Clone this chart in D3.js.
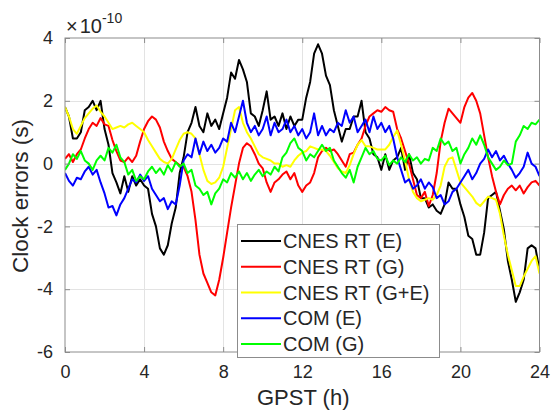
<!DOCTYPE html>
<html>
<head>
<meta charset="utf-8">
<script src="https://cdn.jsdelivr.net/npm/d3@7"></script>
<style>
  html, body { margin: 0; padding: 0; background: #fff; }
  text { font-family: "Liberation Sans", Arial, sans-serif; fill: #262626; }
</style>
</head>
<body>
<svg id="chart" width="553" height="412"></svg>
<script>
// Sampling step of all series, in hours (0 .. 24 h)
const stepHours = 0.2;

const xTicks = [0, 4, 8, 12, 16, 20, 24];
const yTicks = [-6, -4, -2, 0, 2, 4];

const seriesNames = ["CNES RT (E)", "CNES RT (G)", "CNES RT (G+E)", "COM (E)", "COM (G)"];
const seriesColors = ["#000000", "#ff0000", "#ffff00", "#0000ff", "#00ff00"];

// clock errors in units of 1e-10 s, one value every 0.2 h
const cnesE = [
  1.8, 1.5, 0.8, 0.8, 1.0, 1.7, 1.8, 2.0, 1.7, 2.0,
  1.1, 0.6, -0.3, -0.6, -0.95, -0.4, -0.9, -0.4, -0.7, -0.5,
  -0.7, -0.8, -1.6, -2.0, -2.7, -2.9, -2.6, -1.9, -1.4, -0.3,
  0.2, 1.0, 1.3, 1.8, 1.2, 1.0, 1.6, 1.2, 1.4, 1.1,
  1.6, 2.1, 2.9, 2.7, 3.3, 3.0, 2.6, 1.6, 1.5, 1.2,
  1.7, 2.3, 1.4, 1.5, 1.2, 1.6, 1.1, 1.5, 1.2, 1.4,
  1.4, 2.1, 2.6, 3.5, 3.8, 3.5, 2.8, 2.5, 1.7, 1.2,
  0.7, 1.1, 1.1, 1.5, 1.5, 2.0, 1.0, 0.8, 0.3, 0.2,
  -0.2, 0.3, -0.2, 0.1, 0.2, 0.5, -0.2, 0.3, -0.3, -0.5,
  -1.1, -1.1, -1.4, -1.3, -1.5, -1.6, -1.3, -0.6, -0.8, -0.8,
  -1.3, -1.7, -2.3, -2.4, -2.9, -2.9, -2.2, -1.1, -1.0, -0.9,
  -1.5, -2.1, -3.1, -3.7, -4.4, -4.1, -3.7, -2.7, -2.6, -2.7,
  -3.4
];
const cnesG = [
  0.15, 0.3, 0.05, 0.3, 0.45, 0.8, 1.1, 1.3, 1.2, 1.45,
  1.25, 1.2, 0.75, 0.4, 0.1, 0.05, 0.2, 0.05, 0.25, 0.7,
  1.1, 1.35, 1.5, 1.4, 1.15, 0.7, 0.4, 0.15, 0.05, -0.05,
  -0.1, -0.4, -0.9, -1.8, -2.9, -3.5, -3.8, -4.1, -4.2, -3.7,
  -3.0, -2.2, -1.4, -0.7, 0.0, 0.5, 0.65, 0.55, 0.3, 0.0,
  -0.15, -0.6, -0.9, -0.6, -0.5, -0.35, -0.25, -0.5, -0.3, -0.7,
  -0.9, -0.7, -0.6, -0.3, 0.2, 0.4, 0.5, 0.4, 0.45, 0.3,
  0.1, -0.1, 0.3, 0.35, 0.6, 0.8, 1.2, 1.5, 1.6, 1.7,
  1.65, 1.8, 1.7, 1.65, 1.1, 0.8, 0.4, 0.0, -0.5, -1.0,
  -1.1, -0.9, -1.35, -1.0, -0.3, 0.7, 1.3, 1.75, 1.6, 1.45,
  1.3, 1.8, 2.1, 2.25, 2.0, 1.6, 0.9, 0.2, -0.4, -0.9,
  -1.3, -1.0, -0.8, -0.7, -0.85, -0.7, -0.95, -0.75, -0.6, -0.55,
  -0.7
];
const cnesGE = [
  1.8, 1.5, 1.1, 0.95, 1.2, 1.45, 1.6, 1.75, 1.85, 1.65,
  1.5, 1.3, 1.1, 1.15, 1.2, 1.15, 1.25, 1.3, 1.2, 1.1,
  1.0, 0.75, 0.55, 0.35, 0.15, 0.05, 0.0, 0.15, 0.45, 0.75,
  0.95, 1.0, 0.95, 0.8, 0.3, -0.2, -0.55, -0.65, -0.6, -0.45,
  -0.1, 0.5, 1.1, 1.7, 1.8, 1.3, 1.0, 0.8, 0.55, 0.3,
  0.2, 0.15, 0.1, 0.0, 0.0, -0.1, -0.05, -0.1, 0.1, 0.25,
  0.35, 0.4, 0.55, 0.5, 0.45, 0.45, 0.4, 0.25, 0.05, -0.15,
  -0.25, -0.3, -0.05, 0.3, 0.6, 0.75, 0.55, 0.55, 0.5, 0.45,
  0.45, 0.45, 0.6, 0.85, 1.05, 0.6, 0.1, -0.5, -0.9, -1.1,
  -1.2, -1.15, -1.1, -1.15, -1.0, -0.7, -0.1, 0.15, 0.2, -0.2,
  -0.6, -0.75, -0.9, -1.05, -1.25, -1.35, -1.2, -1.05, -1.1, -1.15,
  -1.6, -2.3, -2.9, -3.4, -3.9, -3.9, -3.6, -3.35, -3.1, -2.95,
  -3.5
];
const comE = [
  -0.3, -0.55, -0.7, -0.45, -0.5, -0.25, -0.1, -0.35, -0.2, -0.6,
  -0.95, -1.4, -1.35, -1.65, -1.3, -1.1, -0.8, -0.5, -0.6, -0.35,
  -0.55, -0.4, -0.8, -1.0, -1.2, -1.1, -1.45, -1.2, -1.3, -0.7,
  0.1, 0.3, 0.2, 0.8, 0.3, 0.7, 0.4, 0.6, 0.35, 0.5,
  0.8, 0.7, 1.3, 1.0, 1.5, 2.0, 1.3, 1.0, 1.2, 0.9,
  1.1, 1.5, 0.9, 1.3, 1.0, 1.1, 1.4, 1.0, 1.2, 0.9,
  1.1, 0.8, 1.0, 1.6, 0.9, 1.2, 0.9, 1.1, 1.0, 1.3,
  1.2, 1.7, 1.3, 1.5, 1.0, 1.2, 1.4, 1.0, 1.5, 1.1,
  1.3, 1.0, 1.2, 0.8, 0.2, -0.2, -0.6, -0.5, -0.8, -0.7,
  -0.5, -0.8, -0.6, -0.75, -1.1, -1.0, -1.3, -1.2, -0.9, -0.8,
  -0.6, -0.4, -0.2, -0.5, -0.3, 0.0, 0.15, 0.45, 0.2, 0.4,
  0.1, 0.25, 0.0, -0.2, -0.45, -0.3, -0.1, 0.35, 0.0, -0.1,
  -0.4
];
const comG = [
  -0.2, 0.0, 0.3, 0.15, 0.4, 0.1, 0.0, -0.2, 0.1, 0.25,
  0.1, 0.5, 0.35, 0.6, 0.2, 0.05, -0.35, -0.2, -0.55, -0.4,
  -0.5, -0.25, -0.1, -0.3, -0.15, -0.35, -0.05, -0.25, 0.05, -0.1,
  0.0, -0.3, -0.2, -0.7, -0.8, -1.0, -0.9, -1.3, -0.95, -0.8,
  -0.5, -0.6, -0.3, -0.45, -0.25, -0.5, -0.3, -0.55, -0.35, -0.2,
  -0.4, -0.25, -0.35, -0.1, -0.25, 0.2, 0.35, 0.65, 0.8, 0.5,
  0.4, 0.1, 0.3, 0.2, 0.4, 0.6, 0.4, 0.5, 0.1, -0.1,
  -0.3, -0.45, -0.2, -0.6, -0.1, 0.2, 0.5, 0.3, 0.4, 0.15,
  0.1, 0.25, -0.05, 0.1, 0.0, 0.2, 0.05, 0.3, 0.1, 0.2,
  0.0, 0.15, 0.1, 0.5, 0.4, 0.8, 0.6, 0.7, 0.4, 0.5,
  0.0, 0.3, 0.5, 0.8, 0.6, 0.9, 0.6, 0.2, 0.0, -0.2,
  -0.1, 0.1, -0.05, 0.0, 0.7, 0.9, 1.2, 1.1, 1.3, 1.25,
  1.4
];

const seriesValues = [cnesE, cnesG, cnesGE, comE, comG];

const width = 553, height = 412;
const plot = { left: 65, right: 539.5, top: 38, bottom: 352 };
const axisColor = "#8c8c8c";

const svg = d3.select("#chart");
svg.append("rect").attr("width", width).attr("height", height).attr("fill", "#fff");

const x = d3.scaleLinear().domain([0, 24]).range([plot.left, plot.right]);
const y = d3.scaleLinear().domain([-6, 4]).range([plot.bottom, plot.top]);

// grid
const grid = svg.append("g").attr("stroke", "#e3e3e3").attr("stroke-width", 1);
grid.selectAll("line.gx")
  .data(xTicks.slice(1, -1))
  .join("line")
  .attr("x1", (d) => Math.round(x(d)) + 0.5).attr("x2", (d) => Math.round(x(d)) + 0.5)
  .attr("y1", plot.top).attr("y2", plot.bottom);
grid.selectAll("line.gy")
  .data(yTicks.slice(1, -1))
  .join("line")
  .attr("y1", (d) => Math.round(y(d)) + 0.5).attr("y2", (d) => Math.round(y(d)) + 0.5)
  .attr("x1", plot.left).attr("x2", plot.right);

// series
svg.append("clipPath").attr("id", "plot-clip")
  .append("rect")
  .attr("x", plot.left).attr("y", plot.top)
  .attr("width", plot.right - plot.left).attr("height", plot.bottom - plot.top);

const line = d3.line()
  .x((d, i) => x(i * stepHours))
  .y((d) => y(d));

svg.append("g")
  .attr("clip-path", "url(#plot-clip)")
  .selectAll("path")
  .data(seriesValues)
  .join("path")
  .attr("fill", "none")
  .attr("stroke", (d, i) => seriesColors[i])
  .attr("stroke-width", 2)
  .attr("stroke-linejoin", "round")
  .attr("d", line);

// axes (ticks point inward, box on all sides)
const styleAxis = (g) => {
  g.select(".domain").remove();
  g.selectAll(".tick line").attr("stroke", axisColor);
  g.selectAll(".tick text")
    .attr("fill", "#262626")
    .style("font-size", "18px")
    .style("font-family", '"Liberation Sans", Arial, sans-serif');
};

svg.append("g")
  .attr("transform", `translate(0,${plot.bottom})`)
  .call(d3.axisBottom(x).tickValues(xTicks).tickSizeInner(-5).tickSizeOuter(0).tickPadding(13))
  .call(styleAxis);

svg.append("g")
  .attr("transform", `translate(${plot.left},0)`)
  .call(d3.axisLeft(y).tickValues(yTicks).tickSizeInner(-5).tickSizeOuter(0).tickPadding(12)
    .tickFormat(d3.format("d")))
  .call(styleAxis)
  .selectAll(".tick text").text((d) => (d < 0 ? "-" + Math.abs(d) : d));

svg.append("g")
  .attr("transform", `translate(0,${plot.top})`)
  .call(d3.axisTop(x).tickValues(xTicks).tickSizeInner(-5).tickSizeOuter(0).tickFormat(""))
  .call(styleAxis);

svg.append("g")
  .attr("transform", `translate(${plot.right},0)`)
  .call(d3.axisRight(y).tickValues(yTicks).tickSizeInner(-5).tickSizeOuter(0).tickFormat(""))
  .call(styleAxis);

svg.append("rect")
  .attr("x", plot.left).attr("y", plot.top)
  .attr("width", plot.right - plot.left).attr("height", plot.bottom - plot.top)
  .attr("fill", "none").attr("stroke", axisColor).attr("stroke-width", 1);

// exponent label
const expo = svg.append("text").attr("x", 66).attr("y", 33).style("font-size", "20px");
expo.append("tspan").text("\u00d7");
expo.append("tspan").attr("dx", 2).text("10");
expo.append("tspan").attr("dy", -10).style("font-size", "14px").text("-10");

// axis titles
svg.append("text")
  .attr("x", (plot.left + plot.right) / 2 + 1)
  .attr("y", 405)
  .attr("text-anchor", "middle")
  .style("font-size", "22px")
  .text("GPST (h)");

svg.append("text")
  .attr("transform", `translate(28,${(plot.top + plot.bottom) / 2 + 1}) rotate(-90)`)
  .attr("text-anchor", "middle")
  .style("font-size", "22.5px")
  .text("Clock errors (s)");

// legend
const legend = svg.append("g");
legend.append("rect")
  .attr("x", 237.5).attr("y", 224.5)
  .attr("width", 202).attr("height", 133)
  .attr("fill", "#fff").attr("stroke", axisColor).attr("stroke-width", 1);

const rowY = d3.scaleLinear().domain([0, 4]).range([241, 344]);
const rows = legend.selectAll("g.row")
  .data(seriesNames)
  .join("g")
  .attr("transform", (d, i) => `translate(0,${rowY(i)})`);

rows.append("line")
  .attr("x1", 241).attr("x2", 281)
  .attr("stroke", (d, i) => seriesColors[i])
  .attr("stroke-width", 2);

rows.append("text")
  .attr("x", 283)
  .attr("y", 7)
  .style("font-size", "20px")
  .text((d) => d);
</script>
</body>
</html>
